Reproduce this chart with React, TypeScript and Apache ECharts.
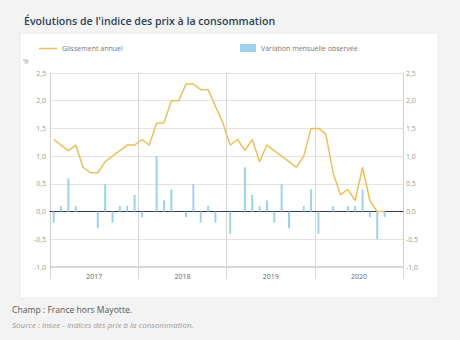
import React, { useEffect, useRef } from "react";
import * as echarts from "echarts";

const years = ["2017", "2018", "2019", "2020"];
const monthsPerYear = 12;

// Glissement annuel (%), Jan 2017 – Oct 2020
const glissementAnnuel = [
  1.3, 1.2, 1.1, 1.2, 0.8, 0.7, 0.7, 0.9, 1.0, 1.1, 1.2, 1.2,
  1.3, 1.2, 1.6, 1.6, 2.0, 2.0, 2.3, 2.3, 2.2, 2.2, 1.9, 1.6,
  1.2, 1.3, 1.1, 1.3, 0.9, 1.2, 1.1, 1.0, 0.9, 0.8, 1.0, 1.5,
  1.5, 1.4, 0.7, 0.3, 0.4, 0.2, 0.8, 0.2, 0.0, 0.0,
];

// Variation mensuelle observée (%), Jan 2017 – Oct 2020
const variationMensuelle = [
  -0.2, 0.1, 0.6, 0.1, 0.0, 0.0, -0.3, 0.5, -0.2, 0.1, 0.1, 0.3,
  -0.1, 0.0, 1.0, 0.2, 0.4, 0.0, -0.1, 0.5, -0.2, 0.1, -0.2, 0.0,
  -0.4, 0.0, 0.8, 0.3, 0.1, 0.2, -0.2, 0.5, -0.3, 0.0, 0.1, 0.4,
  -0.4, 0.0, 0.1, 0.0, 0.1, 0.1, 0.4, -0.1, -0.5, -0.1,
];

const yTicks = { min: -1.0, max: 2.5, interval: 0.5 };

const monthCategories: string[] = [];
years.forEach((y) => {
  for (let m = 1; m <= monthsPerYear; m++) {
    monthCategories.push(`${y}-${String(m).padStart(2, "0")}`);
  }
});

const FONT = "'Open Sans', 'Noto Sans', sans-serif";

export default function App() {
  const ref = useRef<HTMLDivElement>(null);

  useEffect(() => {
    if (!ref.current) return;
    const chart = echarts.init(ref.current, undefined, { renderer: "svg" });
    const fmt = (v: number) => v.toFixed(1).replace(".", ",");
    const yAxisBase = {
      type: "value",
      min: yTicks.min,
      max: yTicks.max,
      interval: yTicks.interval,
      axisLine: { show: true, lineStyle: { color: "#cfcfcf", width: 1 } },
      axisTick: { show: false },
      splitLine: { show: true, lineStyle: { color: "#e3e3e3", width: 1 } },
      axisLabel: {
        formatter: fmt,
        fontSize: 7,
        color: "#999",
        fontFamily: FONT,
      },
    };
    chart.setOption({
      animation: false,
      backgroundColor: "#f3f3f3",
      title: {
        text: "Évolutions de l'indice des prix à la consommation",
        left: 19,
        top: 10,
        textStyle: {
          fontSize: 10.6,
          fontWeight: 600,
          color: "#2e3f58",
          fontFamily: FONT,
        },
      },
      graphic: [
        {
          type: "rect",
          z: -10,
          shape: { x: 20, y: 33, width: 418, height: 265 },
          style: { fill: "#ffffff", stroke: "#ebebeb", lineWidth: 1 },
        },
        {
          type: "text",
          x: 23,
          y: 58,
          style: { text: "%", fontSize: 7, fill: "#999", fontFamily: FONT },
        },
        {
          type: "text",
          x: 12,
          y: 305,
          style: {
            text: "Champ : France hors Mayotte.",
            fontSize: 8.6,
            fill: "#555",
            fontFamily: FONT,
          },
        },
        {
          type: "text",
          x: 12,
          y: 320,
          style: {
            text: "Source : Insee - Indices des prix à la consommation.",
            fontSize: 8,
            fontStyle: "italic",
            fill: "#999",
            fontFamily: FONT,
          },
        },
      ],
      legend: [
        {
          data: ["Glissement annuel"],
          left: 34,
          top: 40,
          icon: "rect",
          itemWidth: 18,
          itemHeight: 1.5,
          textStyle: { fontSize: 7, color: "#777", fontFamily: FONT },
        },
        {
          data: ["Variation mensuelle observée"],
          left: 235,
          top: 39,
          icon: "rect",
          itemWidth: 16,
          itemHeight: 8,
          textStyle: { fontSize: 7, color: "#777", fontFamily: FONT },
        },
      ],
      grid: { left: 50, right: 57, top: 73, bottom: 73 },
      xAxis: [
        {
          type: "category",
          data: monthCategories,
          boundaryGap: true,
          position: "bottom",
          axisLine: {
            show: true,
            onZero: true,
            lineStyle: { color: "#2d3a5c", width: 1.2 },
          },
          axisTick: { show: false },
          axisLabel: { show: false },
          splitLine: { show: false },
        },
        {
          type: "category",
          data: years,
          boundaryGap: true,
          position: "bottom",
          axisLine: {
            show: true,
            onZero: false,
            lineStyle: { color: "#d0d0d0", width: 1.5 },
          },
          axisTick: {
            show: true,
            length: 12,
            lineStyle: { color: "#d8d8d8", width: 1 },
          },
          axisLabel: {
            fontSize: 7,
            color: "#666",
            margin: 6,
            fontFamily: FONT,
          },
          splitLine: { show: true, lineStyle: { color: "#d8d8d8", width: 1 } },
        },
      ],
      yAxis: [
        { ...yAxisBase, position: "left", axisLabel: { ...yAxisBase.axisLabel, margin: 4 } },
        {
          ...yAxisBase,
          position: "right",
          splitLine: { show: false },
          axisLabel: { ...yAxisBase.axisLabel, margin: 3 },
        },
      ],
      series: [
        {
          name: "Variation mensuelle observée",
          type: "bar",
          xAxisIndex: 0,
          yAxisIndex: 0,
          data: variationMensuelle,
          barWidth: 2,
          itemStyle: { color: "#9dd2ea" },
          z: 2,
        },
        {
          name: "Glissement annuel",
          type: "line",
          xAxisIndex: 0,
          yAxisIndex: 0,
          data: glissementAnnuel,
          showSymbol: false,
          symbol: "none",
          lineStyle: { color: "#ecbf5a", width: 1.5 },
          itemStyle: { color: "#ecbf5a" },
          z: 3,
        },
      ],
    });
    return () => chart.dispose();
  }, []);

  return (
    <div
      ref={ref}
      style={{ position: "absolute", left: 0, top: 0, width: 460, height: 340 }}
    />
  );
}
